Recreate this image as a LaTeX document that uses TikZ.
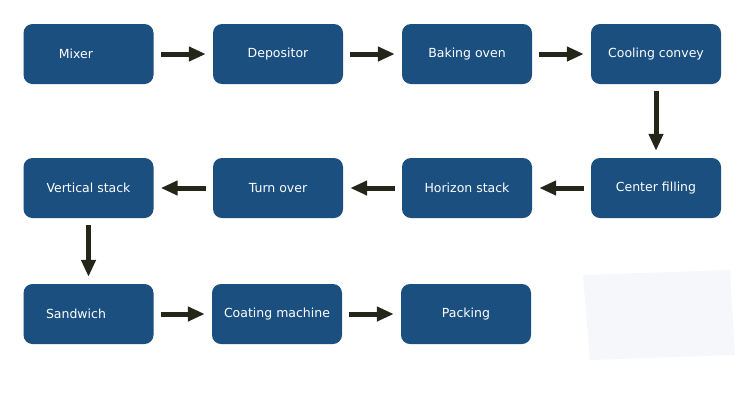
\documentclass[tikz,border=0pt]{standalone}
\usepackage{fontspec}
\setmainfont{DejaVu Sans}
\usetikzlibrary{arrows.meta}
\definecolor{boxblue}{HTML}{1A4F80}
\definecolor{arr}{HTML}{25261A}
\definecolor{faint}{HTML}{F5F7FA}
\begin{document}
\begin{tikzpicture}[x=1pt,y=-1pt,
  box/.style={draw=none,fill=boxblue,rounded corners=9pt,minimum width=130pt,minimum height=60pt,text=white,font=\fontsize{12.5}{14}\selectfont,inner sep=0pt},
  flow/.style={draw=arr,line width=5pt,-{Triangle[length=17pt,width=14pt]},shorten <=7pt,shorten >=7pt}]
\useasboundingbox (0,0) rectangle (750,400);
\fill[faint] (583,275) -- (730,270) -- (735,355) -- (590,360) -- cycle;
\node[box] (mix) at (88.5,54) {\hspace*{-25pt}Mixer};
\node[box] (dep) at (278,54) {Depositor};
\node[box] (bak) at (467,54) {Baking oven};
\node[box] (coo) at (656,54) {Cooling convey};
\node[box] (cen) at (656,188) {Center filling};
\node[box] (hor) at (467,188) {Horizon stack};
\node[box] (tur) at (278,188) {Turn over};
\node[box] (ver) at (88.5,188) {Vertical stack};
\node[box] (san) at (88.5,314) {\hspace*{-25pt}Sandwich};
\node[box] (coa) at (277,314) {Coating machine};
\node[box] (pac) at (466,314) {Packing};
\draw[flow] (mix) -- (dep);
\draw[flow] (dep) -- (bak);
\draw[flow] (bak) -- (coo);
\draw[flow] (coo) -- (cen);
\draw[flow] (cen) -- (hor);
\draw[flow] (hor) -- (tur);
\draw[flow] (tur) -- (ver);
\draw[flow] (ver) -- (san);
\draw[flow] (san) -- (coa);
\draw[flow] (coa) -- (pac);
\end{tikzpicture}
\end{document}
